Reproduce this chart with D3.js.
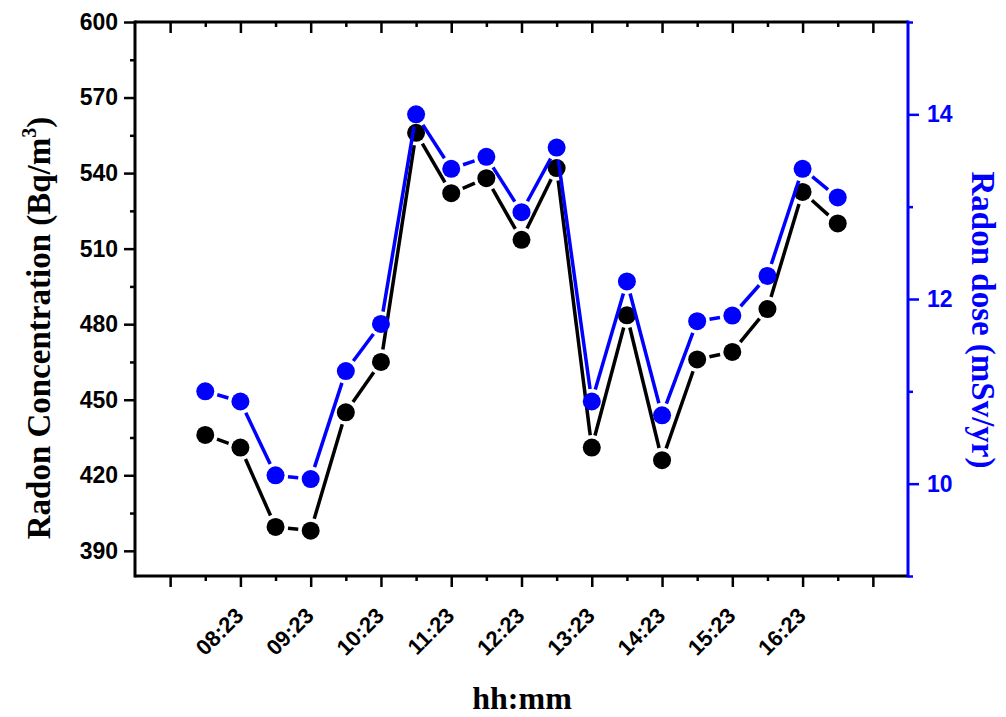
<!DOCTYPE html>
<html>
<head>
<meta charset="utf-8">
<script src="https://cdn.jsdelivr.net/npm/d3@7/dist/d3.min.js"></script>
<style>
  html, body { margin: 0; padding: 0; background: #fff; }
  svg { display: block; }
</style>
</head>
<body>
<svg id="chart" width="1006" height="717"></svg>
<script>
// ---- data ----
const times = ["07:53","08:23","08:53","09:23","09:53","10:23","10:53","11:23","11:53","12:23",
               "12:53","13:23","13:53","14:23","14:53","15:23","15:53","16:23","16:53"];
const concentration = [436, 431, 399.5, 398, 445, 465, 556, 532, 538, 513.5,
                       542, 431, 483.5, 426, 466, 469, 486, 532.5, 520];
const dose = [11.0, 10.89, 10.09, 10.05, 11.22, 11.73, 14.0, 13.41, 13.54, 12.94,
              13.64, 10.89, 12.19, 10.74, 11.76, 11.82, 12.25, 13.41, 13.10];
const concTicks = [390, 420, 450, 480, 510, 540, 570, 600];
const concMinor = [405, 435, 465, 495, 525, 555, 585];
const doseTicks = [10, 12, 14];
const doseMinor = [9, 11, 13, 15];
const concDomain = [380, 600];
const doseDomain = [9, 15];

// ---- layout ----
const L = 135, R = 908, T = 22, B = 576;
const BLUE = "#0000ff";
const svg = d3.select("#chart");

const x = d3.scaleLinear().domain([-2, times.length + 1]).range([L, R]);
const yL = d3.scaleLinear().domain(concDomain).range([B, T]);
const yR = d3.scaleLinear().domain(doseDomain).range([B, T]);

const idx = d3.range(-1, times.length + 1);
const majorX = idx.filter(i => Math.abs(i) % 2 === 1);
const minorX = idx.filter(i => i >= 0 && i % 2 === 0 && i < times.length);

function styleAxis(g, color, w, fs) {
  g.attr("font-size", (fs || 23))
   .attr("font-family", "'Liberation Sans', Arial, sans-serif")
   .attr("font-weight", "bold");
  g.selectAll(".domain").remove();
  g.selectAll(".tick line").attr("stroke", color).attr("stroke-width", w);
  g.selectAll(".tick text").attr("fill", color);
}

// bottom axis
const gB = svg.append("g").attr("transform", `translate(0,${B})`);
gB.append("g").call(d3.axisBottom(x).tickValues(minorX).tickSize(5).tickFormat(""))
  .call(g => styleAxis(g, "#000", 2.5));
gB.append("g").call(d3.axisBottom(x).tickValues(majorX).tickSize(11)
    .tickFormat(i => (i >= 0 && i < times.length) ? times[i] : ""))
  .call(g => styleAxis(g, "#000", 2.5, 22))
  .call(g => g.selectAll(".tick text")
      .attr("text-anchor", "end")
      .attr("dy", null).attr("y", null)
      .attr("transform", "translate(4,41) rotate(-45)"));

// top axis (ticks inward)
const gT = svg.append("g").attr("transform", `translate(0,${T})`);
gT.append("g").call(d3.axisBottom(x).tickValues(minorX).tickSize(5).tickFormat(""))
  .call(g => styleAxis(g, "#000", 2.5));
gT.append("g").call(d3.axisBottom(x).tickValues(majorX).tickSize(11).tickFormat(""))
  .call(g => styleAxis(g, "#000", 2.5));

// left axis
const gL = svg.append("g").attr("transform", `translate(${L},0)`);
gL.append("g").call(d3.axisLeft(yL).tickValues(concMinor).tickSize(5).tickFormat(""))
  .call(g => styleAxis(g, "#000", 2.5));
gL.append("g").call(d3.axisLeft(yL).tickValues(concTicks).tickSize(11).tickPadding(6).tickFormat(d3.format("d")))
  .call(g => styleAxis(g, "#000", 2.5, 23));

// right axis
const gR = svg.append("g").attr("transform", `translate(${R},0)`);
gR.append("g").call(d3.axisRight(yR).tickValues(doseMinor).tickSize(5).tickFormat(""))
  .call(g => styleAxis(g, BLUE, 2.5));
gR.append("g").call(d3.axisRight(yR).tickValues(doseTicks).tickSize(11).tickPadding(8).tickFormat(d3.format("d")))
  .call(g => styleAxis(g, BLUE, 2.5, 23));

// frame lines
svg.append("line").attr("x1", L).attr("x2", R).attr("y1", T).attr("y2", T).attr("stroke", "#000").attr("stroke-width", 3);
svg.append("line").attr("x1", L).attr("x2", R).attr("y1", B).attr("y2", B).attr("stroke", "#000").attr("stroke-width", 3);
svg.append("line").attr("x1", L).attr("x2", L).attr("y1", T - 1.5).attr("y2", B + 1.5).attr("stroke", "#000").attr("stroke-width", 3);
svg.append("line").attr("x1", R).attr("x2", R).attr("y1", T - 1.5).attr("y2", B + 1.5).attr("stroke", BLUE).attr("stroke-width", 3);

// series with gapped lines
const rad = 9, gap = 3.5;
function drawSeries(values, yScale, color) {
  const pts = values.map((v, i) => [x(i), yScale(v)]);
  const g = svg.append("g");
  const segs = d3.pairs(pts);
  g.selectAll("line.seg").data(segs).join("line")
    .attr("class", "seg")
    .each(function([a, b]) {
      const dx = b[0] - a[0], dy = b[1] - a[1];
      const len = Math.hypot(dx, dy);
      const s = (rad + gap) / len;
      const sel = d3.select(this);
      if (len > 2 * (rad + gap)) {
        sel.attr("x1", a[0] + dx * s).attr("y1", a[1] + dy * s)
           .attr("x2", b[0] - dx * s).attr("y2", b[1] - dy * s);
      }
    })
    .attr("stroke", color).attr("stroke-width", 3.5);
  g.selectAll("circle").data(pts).join("circle")
    .attr("cx", d => d[0]).attr("cy", d => d[1]).attr("r", rad).attr("fill", color);
}
drawSeries(concentration, yL, "#000");
drawSeries(dose, yR, BLUE);

// axis titles
svg.append("text")
  .attr("transform", `translate(50,328) rotate(-90)`)
  .attr("text-anchor", "middle")
  .style("font-family", "'Liberation Serif', 'Times New Roman', serif")
  .style("font-weight", "bold").style("font-size", "33px")
  .attr("fill", "#000")
  .call(t => {
    t.append("tspan").text("Radon Concentration (Bq/m");
    t.append("tspan").text("3").attr("dy", -14).style("font-size", "20px");
    t.append("tspan").text(")").attr("dy", 14);
  });

svg.append("text")
  .attr("transform", `translate(972,320) rotate(90)`)
  .attr("text-anchor", "middle")
  .style("font-family", "'Liberation Serif', 'Times New Roman', serif")
  .style("font-weight", "bold").style("font-size", "33px")
  .attr("fill", BLUE)
  .text("Radon dose (mSv/yr)");

svg.append("text")
  .attr("x", 522).attr("y", 709)
  .attr("text-anchor", "middle")
  .style("font-family", "'Liberation Serif', 'Times New Roman', serif")
  .style("font-weight", "bold").style("font-size", "32px")
  .attr("fill", "#000")
  .text("hh:mm");
</script>
</body>
</html>
